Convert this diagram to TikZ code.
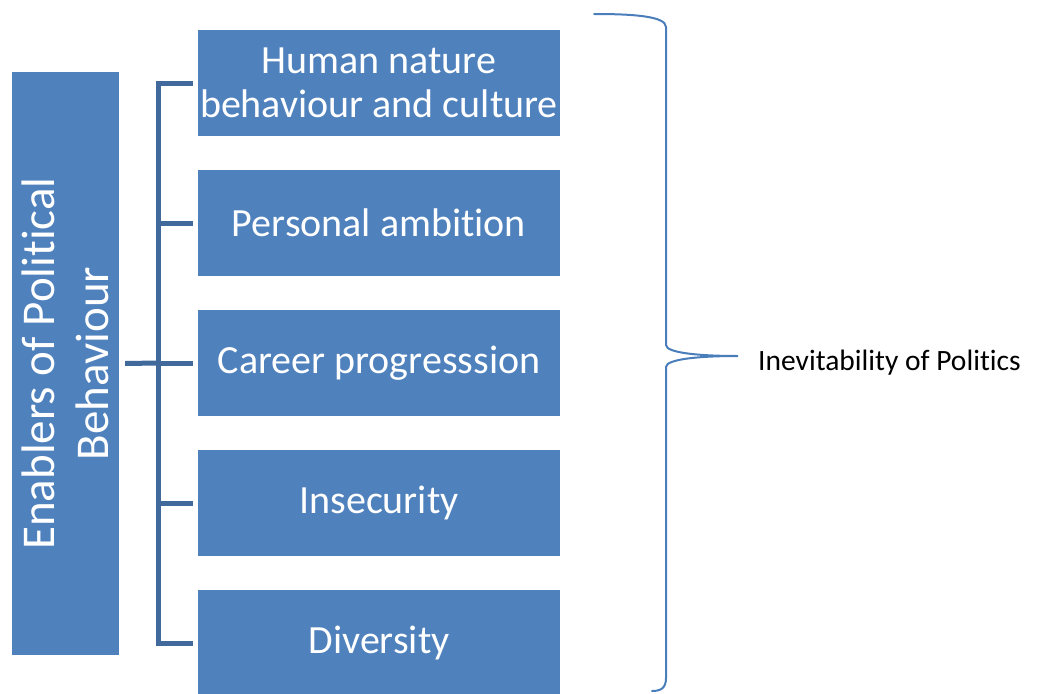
\documentclass[tikz,border=0pt]{standalone}
\usepackage{fontspec}
\setmainfont{Carlito}[Ligatures=NoCommon]
\definecolor{boxblue}{HTML}{4F81BD}
\definecolor{linkblue}{HTML}{41699B}
\definecolor{braceblue}{HTML}{4A7EBB}
\begin{document}
\begin{tikzpicture}[x=1pt,y=-1pt,
  item/.style={fill=boxblue,text=white,minimum width=362pt,minimum height=106pt,
    inner sep=0pt,align=center,font=\fontsize{40}{44}\selectfont},
  conn/.style={draw=linkblue,line width=5pt},
  brace/.style={draw=braceblue,line width=2pt,line cap=round}]
\useasboundingbox (0,0) rectangle (1038,693);

% vertical title bar
\node[fill=boxblue,text=white,rotate=90,minimum width=583pt,minimum height=107pt,
  inner sep=0pt,align=center,font=\fontsize{47}{54}\selectfont]
  (title) at (65.5,363.5) {Enablers of Political\\Behaviour};

% the five enablers
\node[item] (b1) at (379,83)  {Human nature\\behaviour and culture};
\node[item] (b2) at (379,223) {Personal ambition};
\node[item] (b3) at (379,363) {Career progresssion};
\node[item] (b4) at (379,503) {Insecurity};
\node[item] (b5) at (379,643) {Diversity};

% bracket linking the title to each enabler
\coordinate (spine) at (158,363);
\draw[conn] ([xshift=-5pt]b1.west) -| (spine) |- ([xshift=-5pt]b5.west);
\draw[conn] ([xshift=-5pt]b2.west) -- (spine |- b2.west);
\draw[conn] ([xshift=-5pt]b3.west) -- (spine |- b3.west);
\draw[conn] ([xshift=-5pt]b4.west) -- (spine |- b4.west);
\draw[conn] ([xshift=6pt]title.south) -- (spine);

% curly brace gathering all enablers
\coordinate (bt) at (594,14);
\coordinate (tip) at (738,356);
\coordinate (bb) at (652,691);
\draw[brace] (bt) .. controls (632,14) and (666,16) .. (666,27)
  -- (666,345) .. controls (666,353) and (700,356) .. (tip)
  .. controls (700,356) and (666,359) .. (666,367)
  -- (666,678) .. controls (666,688) and (661,691) .. (bb);

\node[anchor=west,inner sep=0pt,font=\fontsize{29.5}{34}\selectfont]
  (label) at ([xshift=20pt,yshift=-7pt]tip) {Inevitability of Politics};
\end{tikzpicture}
\end{document}
